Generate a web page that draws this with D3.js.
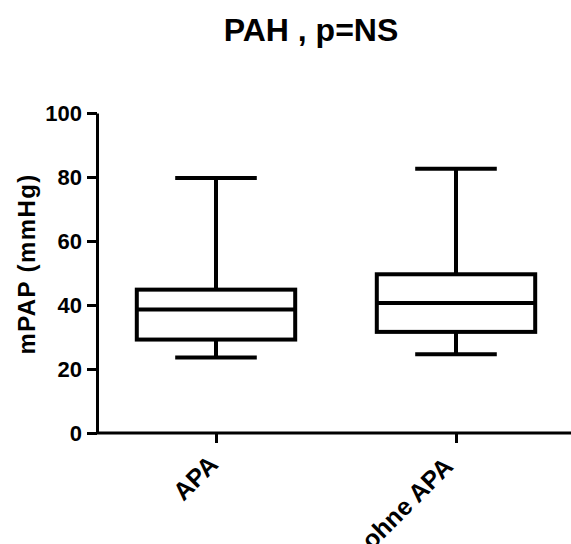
<!DOCTYPE html>
<html>
<head>
<meta charset="utf-8">
<script src="https://cdn.jsdelivr.net/npm/d3@7"></script>
<style>
  body { margin: 0; background: #fff; }
  text { font-family: "Liberation Sans", Arial, sans-serif; font-weight: bold; fill: #000; }
</style>
</head>
<body>
<div id="chart"></div>
<script>
// groups and box stats (mmHg)
var groups = ['APA', 'ohne APA'];
var whiskerLow = [23.6, 24.6];
var q1 = [29.2, 31.6];
var median = [38.6, 40.6];
var q3 = [44.8, 49.6];
var whiskerHigh = [79.7, 82.6];
var yTicks = [0, 20, 40, 60, 80, 100];

var width = 571,
    height = 544;

var svg = d3.select('#chart')
      .append('svg')
      .attr('width', width)
      .attr('height', height);

var x = d3.scalePoint()
      .domain(groups)
      .range([96, 576])
      .padding(0.5);

var y = d3.scaleLinear()
      .domain([0, 100])
      .range([433, 113]);

var step = x.step();
var boxW = step * 0.66,
    capW = step * 0.34;

// title
svg.append('text')
   .attr('x', 311)
   .attr('y', 41)
   .attr('text-anchor', 'middle')
   .style('font-size', '32px')
   .text('PAH , p=NS');

// y axis
var yAxis = svg.append('g')
      .attr('transform', 'translate(97,0)')
      .call(d3.axisLeft(y).tickValues(yTicks).tickSize(10).tickSizeOuter(0).tickPadding(5));
yAxis.attr('font-size', null);
yAxis.selectAll('path, line').attr('stroke', '#000').attr('stroke-width', 3);
yAxis.selectAll('text').style('font-size', '22px').attr('font-family', null);

// x axis
var xAxis = svg.append('g')
      .attr('transform', 'translate(0,433)')
      .call(d3.axisBottom(x).tickSize(10).tickSizeOuter(0));
xAxis.attr('font-size', null);
xAxis.select('.domain').attr('d', 'M96,0H571');
xAxis.selectAll('path, line').attr('stroke', '#000').attr('stroke-width', 3);
xAxis.selectAll('text')
     .style('font-size', '25px')
     .attr('font-family', null)
     .attr('text-anchor', 'end')
     .attr('y', 0).attr('dy', 0)
     .attr('transform', (d, i) => i === 0 ? 'translate(3,33) rotate(-45)' : 'translate(-2,35) rotate(-45)');

// y label
svg.append('text')
   .attr('transform', 'translate(35,264) rotate(-90)')
   .attr('text-anchor', 'middle')
   .style('font-size', '24px')
   .style('letter-spacing', '1.4px')
   .text('mPAP (mmHg)');

// boxes
var box = svg.selectAll('.box')
      .data(groups)
      .enter()
      .append('g')
      .attr('class', 'box');

box.append('line')
   .attr('x1', d => x(d)).attr('x2', d => x(d))
   .attr('y1', (d, i) => y(whiskerHigh[i]))
   .attr('y2', (d, i) => y(q3[i]));
box.append('line')
   .attr('x1', d => x(d)).attr('x2', d => x(d))
   .attr('y1', (d, i) => y(q1[i]))
   .attr('y2', (d, i) => y(whiskerLow[i]));
box.append('line')
   .attr('x1', d => x(d) - capW / 2).attr('x2', d => x(d) + capW / 2)
   .attr('y1', (d, i) => y(whiskerHigh[i]))
   .attr('y2', (d, i) => y(whiskerHigh[i]));
box.append('line')
   .attr('x1', d => x(d) - capW / 2).attr('x2', d => x(d) + capW / 2)
   .attr('y1', (d, i) => y(whiskerLow[i]))
   .attr('y2', (d, i) => y(whiskerLow[i]));
box.append('rect')
   .attr('x', d => x(d) - boxW / 2)
   .attr('width', boxW)
   .attr('y', (d, i) => y(q3[i]))
   .attr('height', (d, i) => y(q1[i]) - y(q3[i]))
   .attr('fill', 'none');
box.append('line')
   .attr('x1', d => x(d) - boxW / 2).attr('x2', d => x(d) + boxW / 2)
   .attr('y1', (d, i) => y(median[i]))
   .attr('y2', (d, i) => y(median[i]));

box.selectAll('line, rect')
   .attr('stroke', '#000')
   .attr('stroke-width', 4);
</script>
</body>
</html>
